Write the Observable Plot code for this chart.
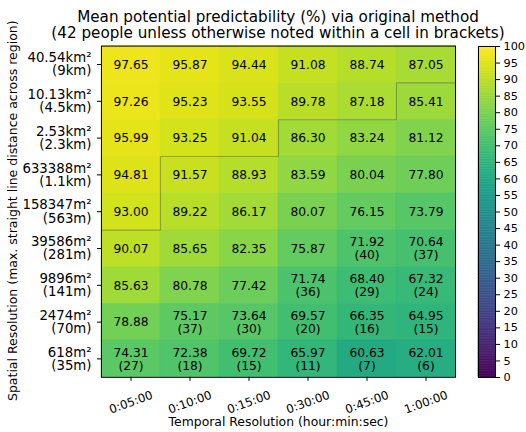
<!DOCTYPE html>
<html><head><meta charset="utf-8">
<script src="https://cdn.jsdelivr.net/npm/d3@7"></script>
<script src="https://cdn.jsdelivr.net/npm/@observablehq/plot@0.6"></script>
<style>
body{margin:0;background:#fff;font-family:"DejaVu Sans",sans-serif;}
#wrap{position:relative;width:526px;height:432px;overflow:hidden;background:#fff;}
#title{position:absolute;left:15px;top:9px;width:526px;text-align:center;font-size:15.2px;line-height:16px;color:#000;font-family:"DejaVu Sans",sans-serif;white-space:nowrap;}
#main{position:absolute;left:0;top:0;}
#cbar{position:absolute;left:470px;top:0;}
</style></head><body>
<div id="wrap"><div id="main"></div><div id="cbar"></div>
<div id="title">Mean potential predictability (%) via original method<br>(42 people unless otherwise noted within a cell in brackets)</div></div>
<script>
const times = ["0:05:00","0:10:00","0:15:00","0:30:00","0:45:00","1:00:00"];
const areas = ["40.54","10.13","2.53","633388","158347","39586","9896","2474","618"];
const areaUnits = ["km","km","km","m","m","m","m","m","m"];
const dists = ["9","4.5","2.3","1.1","563","281","141","70","35"];
const distUnits = ["km","km","km","km","m","m","m","m","m"];
const values = [
  [97.65,95.87,94.44,91.08,88.74,87.05],
  [97.26,95.23,93.55,89.78,87.18,85.41],
  [95.99,93.25,91.04,86.30,83.24,81.12],
  [94.81,91.57,88.93,83.59,80.04,77.80],
  [93.00,89.22,86.17,80.07,76.15,73.79],
  [90.07,85.65,82.35,75.87,71.92,70.64],
  [85.63,80.78,77.42,71.74,68.40,67.32],
  [78.88,75.17,73.64,69.57,66.35,64.95],
  [74.31,72.38,69.72,65.97,60.63,62.01]
];
const people = [
  [null,null,null,null,null,null],
  [null,null,null,null,null,null],
  [null,null,null,null,null,null],
  [null,null,null,null,null,null],
  [null,null,null,null,null,null],
  [null,null,null,null,40,37],
  [null,null,null,36,29,24],
  [null,37,30,20,16,15],
  [27,18,15,11,7,6]
];
// rows (from top) enclosed by the grey boundary line, per column
const boundary = [5,3,3,2,2,1];
const cbTicks = [0,5,10,15,20,25,30,35,40,45,50,55,60,65,70,75,80,85,90,95,100];
const titleY = "Spatial Resolution (max. straight line distance across region)";
const titleX = "Temporal Resolution (hour:min:sec)";

const cells = [];
values.forEach((row,j)=>row.forEach((v,i)=>cells.push({i,j,v,n:people[j][i]})));
const stair = [];
boundary.forEach((b,i)=>{stair.push({x:i,y:b});stair.push({x:i+1,y:b});});
const rowIdx = areas.map((_,j)=>j);
const colIdx = times.map((_,i)=>i);

const FONT = "DejaVu Sans";
const main = Plot.plot({
  width:526, height:432,
  marginLeft:101, marginRight:71, marginTop:45.6, marginBottom:55.2,
  style:{fontFamily:FONT, fontSize:"12px", background:"transparent", color:"#000", overflow:"visible"},
  x:{domain:[0,6]},
  y:{domain:[0,9], reverse:true},
  color:{type:"linear", scheme:"viridis", domain:[0,100]},
  marks:[
    Plot.rect(cells,{x1:"i", x2:d=>d.i+1, y1:"j", y2:d=>d.j+1, fill:"v", stroke:"v", strokeWidth:0.6}),
    Plot.line(stair,{x:"x", y:"y", stroke:"#4a4a4a", strokeOpacity:0.4, strokeWidth:1.1}),
    Plot.text(cells,{x:d=>d.i+0.5, y:d=>d.j+0.5,
      text:d=>d.n==null ? d.v.toFixed(2) : d.v.toFixed(2)+"\n("+d.n+")",
      fontSize:12.3, lineHeight:1.08, fill:"#000"}),
    Plot.frame({stroke:"#000", strokeWidth:1}),
    Plot.axisX({ticks:colIdx.map(i=>i+0.5), tickFormat:()=>"", tickSize:4, label:null, anchor:"bottom"}),
    Plot.axisY({ticks:rowIdx.map(j=>j+0.5), tickFormat:()=>"", tickSize:4, label:null, anchor:"left"}),
    Plot.text(rowIdx,{ariaLabel:"ylab", x:()=>0, y:j=>j+0.5, dx:-10, textAnchor:"end",
      text:j=>areas[j]+areaUnits[j]+"²\n("+dists[j]+distUnits[j]+")", fontSize:13.3, fill:"#000"}),
    Plot.text(colIdx,{ariaLabel:"xlab", x:i=>i+0.5, y:()=>9, dy:25, rotate:-20,
      text:i=>times[i], fontSize:11.8, fill:"#000"}),
    Plot.text([titleY],{frameAnchor:"left", textAnchor:"middle", lineAnchor:"middle", dx:-89, dy:-1, rotate:-90, text:d=>d, fontSize:12.5, fill:"#000"}),
    Plot.text([titleX],{frameAnchor:"bottom", textAnchor:"middle", lineAnchor:"middle", dy:45, text:d=>d, fontSize:12.4, fill:"#000"})
  ]
});
document.getElementById("main").appendChild(main);

// rebuild y tick labels with italic units and superscript (flat tspans)
const ylabG = main.querySelector('g[aria-label="ylab"]');
if (ylabG) {
  const ns = "http://www.w3.org/2000/svg";
  ylabG.querySelectorAll("text").forEach((t,k)=>{
    const j = rowIdx[k];
    const tx = t.getAttribute("x") || "0";
    while (t.firstChild) t.removeChild(t.firstChild);
    t.removeAttribute("dy");
    const add = (txt, opts) => {
      const s = document.createElementNS(ns,"tspan");
      s.textContent = txt;
      if (opts) for (const key in opts) s.setAttribute(key, opts[key]);
      t.appendChild(s);
    };
    add(areas[j], {x:tx, dy:"0"});
    add(areaUnits[j], {"font-style":"italic"});
    add("²");
    add("("+dists[j], {x:tx, dy:"13.5"});
    add(distUnits[j], {"font-style":"italic"});
    add(")");
  });
}

const strips = d3.range(0,100,0.5);
const cb = Plot.plot({
  width:56, height:432,
  marginLeft:8, marginRight:31, marginTop:46, marginBottom:55,
  style:{fontFamily:FONT, fontSize:"11.3px", background:"transparent", color:"#000", overflow:"visible"},
  y:{domain:[0,100]},
  color:{type:"linear", scheme:"viridis", domain:[0,100]},
  marks:[
    Plot.rect(strips,{y1:d=>d, y2:d=>d+0.5, fill:d=>d+0.25, stroke:d=>d+0.25, strokeWidth:0.5}),
    Plot.frame({stroke:"#000", strokeWidth:1}),
    Plot.axisY({anchor:"right", ticks:cbTicks, tickSize:4, label:null, tickPadding:4})
  ]
});
document.getElementById("cbar").appendChild(cb);
</script>
</body></html>
